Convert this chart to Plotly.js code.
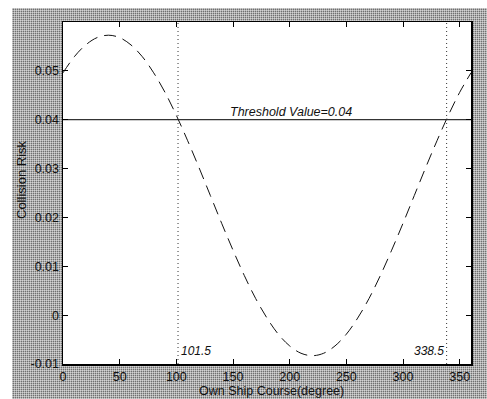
<!DOCTYPE html>
<html>
<head>
<meta charset="utf-8">
<script src="https://cdn.plot.ly/plotly-3.0.1.min.js"></script>
<style>
html,body{margin:0;padding:0;background:#fff;}
body{width:487px;height:399px;overflow:hidden;position:relative;}
#bg{position:absolute;left:12px;top:8px;width:475px;height:391px;
background-color:#707070;
background-image:
 repeating-linear-gradient(0deg, rgba(255,255,255,0.45) 0px, rgba(255,255,255,0.45) 1px, transparent 1px, transparent 2px),
 repeating-linear-gradient(90deg, rgba(255,255,255,0.45) 0px, rgba(255,255,255,0.45) 1px, transparent 1px, transparent 2px);}
#chart{position:absolute;left:0;top:0;width:487px;height:399px;}
</style>
</head>
<body>
<div id="bg"></div>
<div id="chart"></div>
<script>
// Own ship course (degree)
const course = [0,10,20,30,40,50,60,70,80,90,100,110,120,130,140,150,160,170,180,190,200,210,220,230,240,250,260,270,280,290,300,310,320,330,340,350,360];
// Collision risk
const risk = [0.0496,0.0529,0.0553,0.0568,0.0573,0.0568,0.0553,0.0529,0.0496,0.0456,0.0409,0.0357,0.0302,0.0245,0.0188,0.0133,0.0081,0.0034,-0.0006,-0.0039,-0.0063,-0.0078,-0.0083,-0.0078,-0.0063,-0.0039,-0.0006,0.0034,0.0081,0.0133,0.0188,0.0245,0.0302,0.0357,0.0409,0.0456,0.0496];
const threshold = 0.04;
const crossings = [101.5, 338.5];
const crossingLabels = ["101.5", "338.5"];
const xTicks = [0,50,100,150,200,250,300,350];
const yTicks = [-0.01,0,0.01,0.02,0.03,0.04,0.05];
const yTickText = ["-0.01","0","0.01","0.02","0.03","0.04","0.05"];
const xRange = [0,360];
const yRange = [-0.01,0.06];

const traces = [
  {x: course, y: risk, mode:'lines', type:'scatter',
   line:{color:'#111', width:1, dash:'12px,7px', shape:'spline'}, hoverinfo:'skip'},
  {x: xRange, y:[threshold, threshold], mode:'lines', type:'scatter',
   line:{color:'#000', width:1}, hoverinfo:'skip'}
];
crossings.forEach(c => traces.push({x:[c,c], y:yRange, mode:'lines', type:'scatter',
   line:{color:'#333', width:1, dash:'1px,3px'}, hoverinfo:'skip'}));

const FAM = 'Liberation Sans, Arial, sans-serif';
const layout = {
  width:487, height:399,
  margin:{l:63, r:16, t:22, b:35},
  paper_bgcolor:'rgba(0,0,0,0)', plot_bgcolor:'#fff',
  showlegend:false, font:{family:FAM, size:12, color:'#111'},
  xaxis:{range:xRange, tickvals:xTicks, ticks:'inside', ticklen:5, tickcolor:'#000',
    showline:true, linecolor:'#000', linewidth:1.5, mirror:'ticks', showgrid:false, zeroline:false,
    tickfont:{family:FAM, size:12.5, color:'#111'}},
  yaxis:{range:yRange, tickvals:yTicks, ticktext:yTickText, ticks:'inside', ticklen:5, tickcolor:'#000',
    showline:true, linecolor:'#000', linewidth:1.5, mirror:'ticks', showgrid:false, zeroline:false,
    tickfont:{family:FAM, size:12.5, color:'#111'}},
  annotations:[
    {x:201, y:threshold, xref:'x', yref:'y', text:'<i>Threshold Value=0.04</i>', showarrow:false,
     yanchor:'bottom', yshift:-1, font:{family:FAM, size:12.5, color:'#111'}},
    {x:crossings[0], y:-0.01, xref:'x', yref:'y', text:'<i>'+crossingLabels[0]+'</i>', showarrow:false,
     xanchor:'left', yanchor:'bottom', xshift:1, yshift:4, font:{family:FAM, size:12, color:'#111'}},
    {x:crossings[1], y:-0.01, xref:'x', yref:'y', text:'<i>'+crossingLabels[1]+'</i>', showarrow:false,
     xanchor:'right', yanchor:'bottom', xshift:-1, yshift:4, font:{family:FAM, size:12, color:'#111'}},
    {x:(271-63)/408, y:(364-391)/342, xref:'paper', yref:'paper', yanchor:'middle', xanchor:'center',
     text:'Own Ship Course(degree)', showarrow:false, font:{family:FAM, size:12.5, color:'#111'}},
    {x:(21-63)/408, y:(364-180)/342, xref:'paper', yref:'paper', text:'Collision Risk', textangle:-90, showarrow:false,
     xanchor:'center', yanchor:'middle', font:{family:FAM, size:13, color:'#111'}}
  ]
};
Plotly.newPlot('chart', traces, layout, {displayModeBar:false, staticPlot:true});
</script>
</body>
</html>
